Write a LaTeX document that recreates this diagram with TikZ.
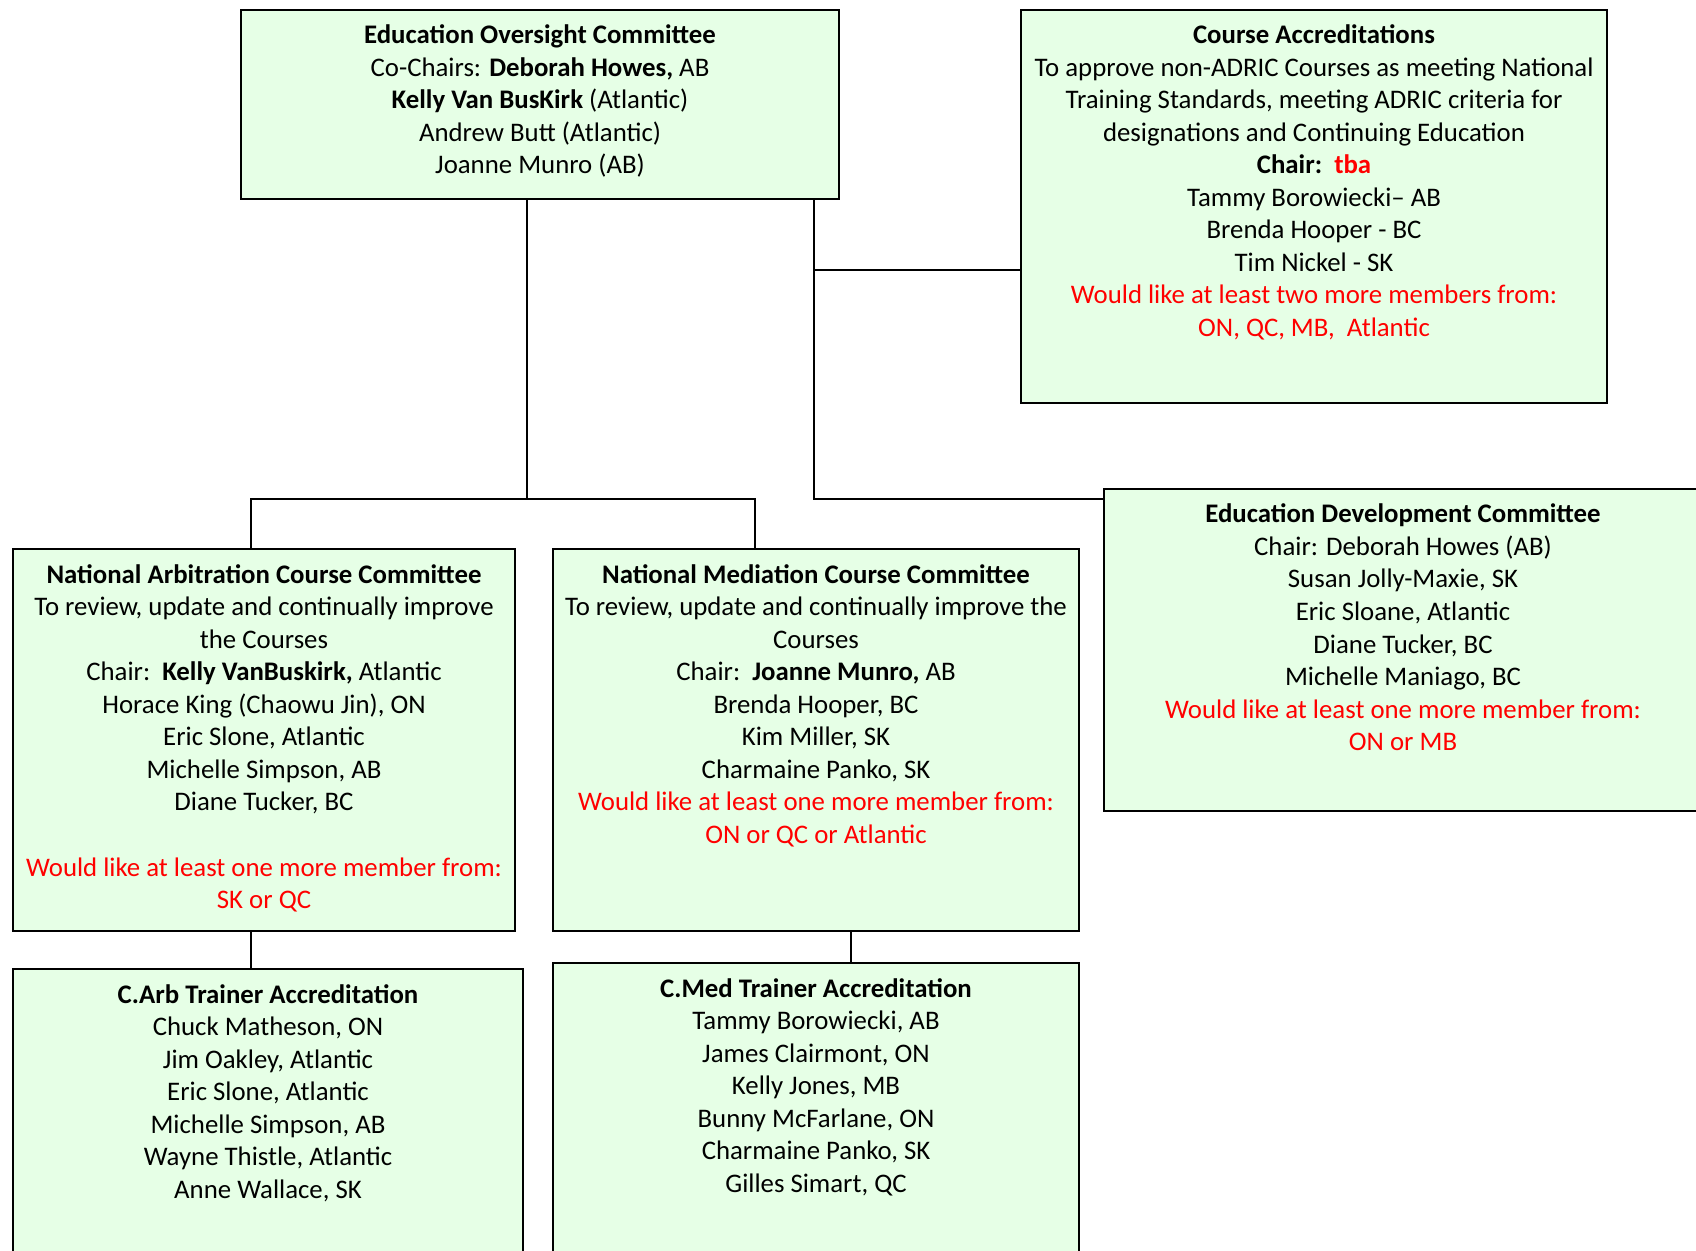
\documentclass[tikz,border=0pt]{standalone}
\usepackage{fontspec}
\setmainfont{Carlito}
\definecolor{boxfill}{HTML}{E6FFE6}
\definecolor{redtxt}{HTML}{FF0000}
\tikzset{
  box/.style={draw=black, line width=1pt, fill=boxfill, anchor=north west, inner sep=0pt},
  txt/.style={anchor=north, align=center, inner sep=0pt, font=\fontsize{13.4}{16.28}\selectfont},
  conn/.style={draw=black, line width=0.8pt}
}
\newcommand{\rd}[1]{\textcolor{redtxt}{#1}}
\begin{document}
\begin{tikzpicture}[x=0.5pt,y=-0.5pt]
\useasboundingbox (0,0) rectangle (1696,1250);
% boxes
\node[box, minimum width=299pt, minimum height=94.5pt] (eoc) at (240,9) {};
\node[box, minimum width=293pt, minimum height=196.5pt] (ca) at (1020,9) {};
\node[box, minimum width=305pt, minimum height=161pt] (edc) at (1103,488) {};
\node[box, minimum width=251pt, minimum height=191pt] (nac) at (12,548) {};
\node[box, minimum width=263pt, minimum height=191pt] (nmc) at (552,548) {};
\node[box, minimum width=255pt, minimum height=155pt] (carb) at (12,968) {};
\node[box, minimum width=263pt, minimum height=158pt] (cmed) at (552,962) {};
% texts
\node[txt] (eoct) at ([yshift=-7.6pt]eoc.north) {\textbf{Education Oversight Committee}\\
Co-Chairs: \textbf{Deborah Howes,} AB\\
\textbf{Kelly Van BusKirk} (Atlantic)\\
Andrew Butt (Atlantic)\\
Joanne Munro (AB)};
\node[txt] (cat) at ([yshift=-7.6pt]ca.north) {\textbf{Course Accreditations}\\
To approve non-ADRIC Courses as meeting National\\
Training Standards, meeting ADRIC criteria for\\
designations and Continuing Education\\
\textbf{Chair:\ \ \rd{tba}}\\
Tammy Borowiecki– AB\\
Brenda Hooper - BC\\
Tim Nickel - SK\\
\rd{Would like at least two more members from:}\\
\rd{ON, QC, MB,\ \ Atlantic}};
\node[txt] (edct) at ([yshift=-7.8pt]edc.north -| 1403,0) {\textbf{Education Development Committee}\\
Chair: Deborah Howes (AB)\\
Susan Jolly-Maxie, SK\\
Eric Sloane, Atlantic\\
Diane Tucker, BC\\
Michelle Maniago, BC\\
\rd{Would like at least one more member from:}\\
\rd{ON or MB}};
\node[txt] (nact) at ([yshift=-7.9pt]nac.north) {\textbf{National Arbitration Course Committee}\\
To review, update and continually improve\\
the Courses\\
Chair:\ \ \textbf{Kelly VanBuskirk,} Atlantic\\
Horace King (Chaowu Jin), ON\\
Eric Slone, Atlantic\\
Michelle Simpson, AB\\
Diane Tucker, BC\\[16.28pt]
\rd{Would like at least one more member from:}\\
\rd{SK or QC}};
\node[txt] (nmct) at ([yshift=-7.9pt]nmc.north) {\textbf{National Mediation Course Committee}\\
To review, update and continually improve the\\
Courses\\
Chair:\ \ \textbf{Joanne Munro,} AB\\
Brenda Hooper, BC\\
Kim Miller, SK\\
Charmaine Panko, SK\\
\rd{Would like at least one more member from:}\\
\rd{ON or QC or Atlantic}};
\node[txt] (carbt) at ([yshift=-7.9pt]carb.north) {\textbf{C.Arb Trainer Accreditation}\\
Chuck Matheson, ON\\
Jim Oakley, Atlantic\\
Eric Slone, Atlantic\\
Michelle Simpson, AB\\
Wayne Thistle, Atlantic\\
Anne Wallace, SK};
\node[txt] (cmedt) at ([yshift=-7.9pt]cmed.north) {\textbf{C.Med Trainer Accreditation}\\
Tammy Borowiecki, AB\\
James Clairmont, ON\\
Kelly Jones, MB\\
Bunny McFarlane, ON\\
Charmaine Panko, SK\\
Gilles Simart, QC};
% connectors
\coordinate (ja) at (527,499);
\coordinate (jb) at (814,499);
\coordinate (jc) at (814,270);
\coordinate (bl) at (251,499);
\coordinate (br) at (755,499);
\coordinate (jd) at (851,0);
\draw[conn] (eoc.south -| ja) -- (ja);
\draw[conn] (nac.north -| bl) -- (bl) -- (br) -- (nmc.north -| br);
\draw[conn] (eoc.south -| jb) -- (jb) -- (jb -| edc.west);
\draw[conn] (jc) -- (jc -| ca.west);
\draw[conn] (nac.south -| bl) -- (carb.north -| bl);
\draw[conn] (nmc.south -| jd) -- (cmed.north -| jd);
\end{tikzpicture}
\end{document}
